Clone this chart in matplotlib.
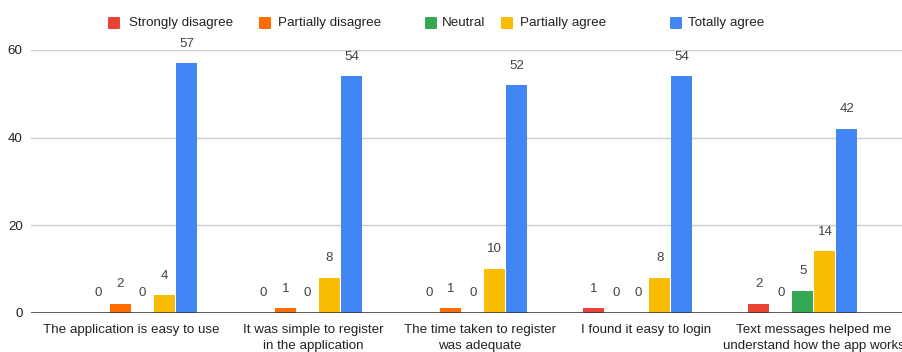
import matplotlib
matplotlib.use("Agg")
import matplotlib.pyplot as plt
from matplotlib.patches import FancyBboxPatch
from matplotlib.transforms import ScaledTranslation
import numpy as np

plt.rcParams['font.family'] = ['Liberation Sans', 'DejaVu Sans']

categories = [
    "The application is easy to use",
    "It was simple to register\nin the application",
    "The time taken to register\nwas adequate",
    "I found it easy to login",
    "Text messages helped me\nunderstand how the app works",
]
series_names = ["Strongly disagree", "Partially disagree", "Neutral",
                "Partially agree", "Totally agree"]
strongly_disagree = [0, 0, 0, 1, 2]
partially_disagree = [2, 1, 1, 0, 0]
neutral = [0, 0, 0, 0, 5]
partially_agree = [4, 8, 10, 8, 14]
totally_agree = [57, 54, 52, 54, 42]
y_ticks = [0, 20, 40, 60]

series_values = [strongly_disagree, partially_disagree, neutral,
                 partially_agree, totally_agree]
colors = ["#EA4335", "#FF6D01", "#34A853", "#FBBC04", "#4285F4"]

FS = 9.6
W, H = 903, 352
fig = plt.figure(figsize=(W / 100, H / 100), dpi=100)

# axes placement in pixels
ax_left, ax_right = 31, 903
y0_px, y60_px = 312.5, 50
ax = fig.add_axes([ax_left / W, 1 - y0_px / H,
                   (ax_right - ax_left) / W, (y0_px - y60_px) / H])

group_px = 165.1
first_center_px = 142.5
ax.set_xlim((ax_left - first_center_px) / group_px,
            (ax_right - first_center_px) / group_px)
ax.set_ylim(0, 60)

bar_step = 22 / group_px
bar_w = 21 / group_px
x = np.arange(len(categories))

for i, (vals, col) in enumerate(zip(series_values, colors)):
    xpos = x + (i - 2) * bar_step
    ax.bar(xpos, vals, width=bar_w, color=col, zorder=3, linewidth=0)
    for xp, v in zip(xpos, vals):
        ax.annotate(str(v), (xp, v), xytext=(0, 14), textcoords="offset points",
                    ha="center", va="center", fontsize=FS, color="#444444",
                    annotation_clip=False)

ax.set_yticks(y_ticks)
ax.set_yticklabels([str(t) for t in y_ticks], fontsize=FS, color="#222222")
ax.grid(axis="y", color="#cccccc", linewidth=1, zorder=0)
ax.axhline(0, color="#333333", linewidth=1.1, zorder=4)
ax.set_xticks(x)
ax.set_xticklabels(categories, fontsize=FS, color="#222222", linespacing=1.5)
ax.tick_params(axis="both", length=0)
ax.tick_params(axis="x", pad=8)
ax.tick_params(axis="y", pad=6)
for s in ax.spines.values():
    s.set_visible(False)

# horizontal nudges (pixels) for the category labels
label_shift_px = [-11, 6, 7, 8, 11]
for lab, dx in zip(ax.get_xticklabels(), label_shift_px):
    lab.set_transform(lab.get_transform() +
                      ScaledTranslation(dx / 100, 0, fig.dpi_scale_trans))

# legend drawn in figure pixel positions
legend_sq_x = [108, 259, 425, 501, 670]
legend_txt_x = [129, 278, 442, 520, 688]
legend_y = 23
sq = 12
for name, col, sx, tx in zip(series_names, colors, legend_sq_x, legend_txt_x):
    patch = FancyBboxPatch((sx / W, (H - legend_y - sq / 2) / H), sq / W, sq / H,
                           boxstyle="round,pad=0,rounding_size=0.002",
                           transform=fig.transFigure, facecolor=col,
                           edgecolor="none")
    fig.patches.append(patch)
    fig.text(tx / W, 1 - legend_y / H, name, fontsize=FS, color="#222222",
             ha="left", va="center")

fig.savefig("out.png", dpi=100)
